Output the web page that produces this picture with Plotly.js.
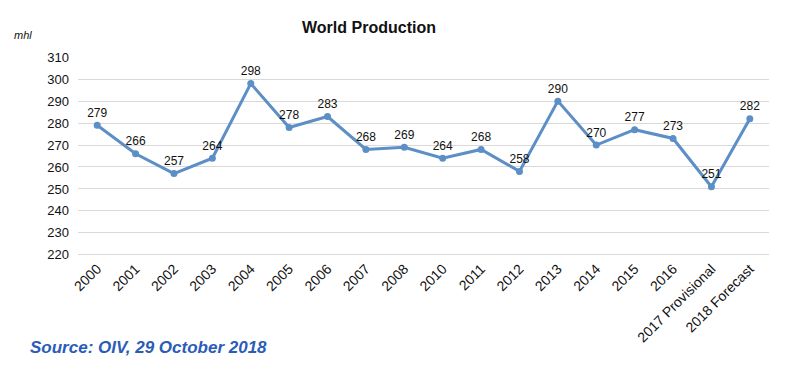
<!DOCTYPE html>
<html>
<head>
<meta charset="utf-8">
<script src="https://cdn.plot.ly/plotly-3.0.1.min.js"></script>
<style>html,body{margin:0;padding:0;background:#fff;}#chart{width:800px;height:371px;}</style>
</head>
<body>
<div id="chart"></div>
<script>
const categories = ["2000","2001","2002","2003","2004","2005","2006","2007","2008","2010","2011","2012","2013","2014","2015","2016","2017 Provisional","2018 Forecast"];
const production = [279,266,257,264,298,278,283,268,269,264,268,258,290,270,277,273,251,282];
const labels = production.map(String);
const yTicks = [220,230,240,250,260,270,280,290,300,310];

const trace = {
  x: categories,
  y: production,
  text: labels,
  type: 'scatter',
  mode: 'lines+markers+text',
  textposition: 'top center',
  textfont: {family: 'Liberation Sans, Arial, sans-serif', size: 12, color: '#111'},
  line: {color: '#5b8fc6', width: 3},
  marker: {color: '#5b8fc6', size: 7},
  cliponaxis: false,
  hoverinfo: 'x+y'
};

const layout = {
  width: 800, height: 371,
  margin: {l: 78, r: 31, t: 57, b: 114},
  paper_bgcolor: '#fff', plot_bgcolor: '#fff',
  font: {family: 'Liberation Sans, Arial, sans-serif', size: 13, color: '#111'},
  title: {text: '<b>World Production</b>', x: 369/800, xanchor: 'center', y: 1 - 27/371, yanchor: 'middle',
          font: {family: 'Liberation Sans, Arial, sans-serif', size: 16, color: '#111'}},
  showlegend: false,
  xaxis: {
    type: 'category',
    range: [-0.5, categories.length - 0.5],
    autorange: false,
    tickangle: -45,
    showgrid: false, zeroline: false, showline: false,
    ticks: '',
    tickfont: {size: 14, color: '#111'}
  },
  yaxis: {
    range: [219, 310.1],
    autorange: false,
    tickvals: yTicks,
    ticktext: yTicks.map(String),
    showgrid: true, gridcolor: '#d9d9d9', gridwidth: 1,
    zeroline: false, showline: false, ticks: '',
    ticklabelstandoff: 8,
    tickfont: {size: 13, color: '#111'}
  },
  annotations: [
    {text: '<i>mhl</i>', xref: 'paper', yref: 'paper', x: (12-78)/691, y: (257-35)/200, xanchor: 'left', yanchor: 'middle',
     showarrow: false, font: {size: 11, color: '#111'}},
    {text: '<b><i>Source: OIV, 29 October 2018</i></b>', xref: 'paper', yref: 'paper', x: (28-78)/691, y: (257-347)/200,
     xanchor: 'left', yanchor: 'middle', showarrow: false, font: {size: 17, color: '#2a5cb8'}}
  ]
};

Plotly.newPlot('chart', [trace], layout, {displayModeBar: false, staticPlot: true});
</script>
</body>
</html>
